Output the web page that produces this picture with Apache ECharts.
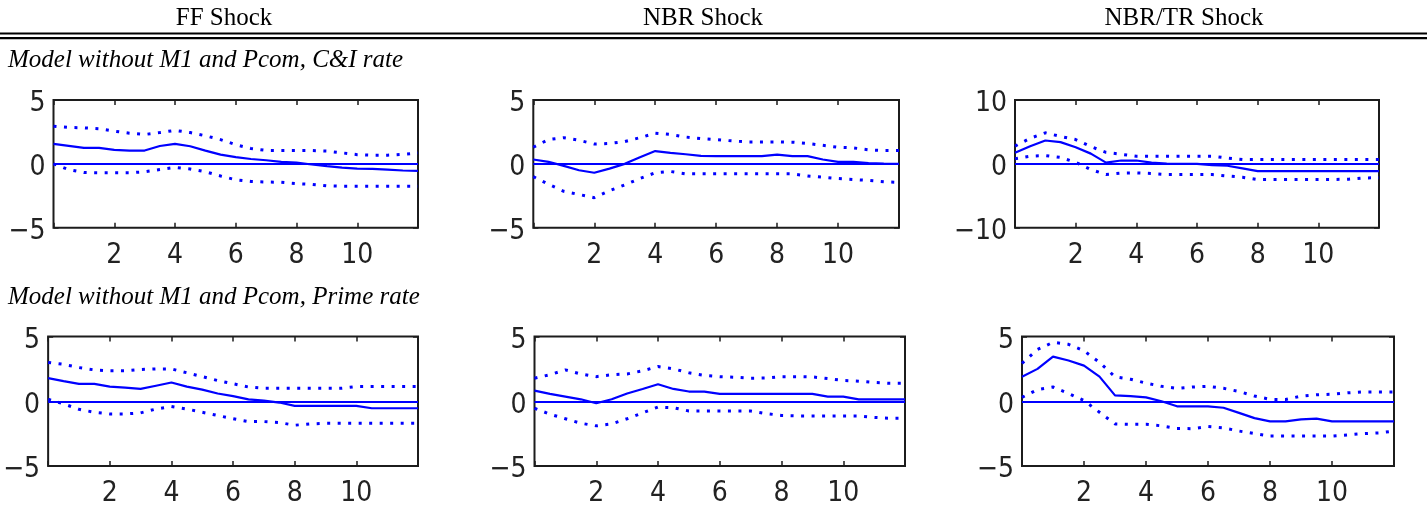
<!DOCTYPE html>
<html>
<head>
<meta charset="utf-8">
<script src="https://cdn.jsdelivr.net/npm/echarts@6/dist/echarts.min.js"></script>
<style>
  html, body { margin: 0; padding: 0; background: #fff; }
  #chart { width: 1427px; height: 512px; }
</style>
</head>
<body>
<div id="chart"></div>
<script>
// Horizon (quarters) at which each impulse response is sampled
const horizon = [0, 0.5, 1, 1.5, 2, 2.5, 3, 3.5, 4, 4.5, 5, 5.5, 6, 6.5, 7, 7.5, 8, 8.5, 9, 9.5, 10, 10.5, 11, 11.5, 12];
const xTicks = [2, 4, 6, 8, 10];

const shockTitles = ['FF Shock', 'NBR Shock', 'NBR/TR Shock'];
const modelTitles = ['Model without M1 and Pcom, C&I rate', 'Model without M1 and Pcom, Prime rate'];

// C&I rate responses: point estimate with upper / lower bands
const ffCI_resp = [1.57, 1.41, 1.25, 1.25, 1.1, 1.04, 1.04, 1.4, 1.57, 1.38, 1.04, 0.72, 0.52, 0.38, 0.28, 0.16, 0.1, -0.05, -0.18, -0.3, -0.37, -0.4, -0.45, -0.52, -0.55];
const ffCI_hi = [2.95, 2.85, 2.82, 2.75, 2.56, 2.4, 2.3, 2.45, 2.62, 2.45, 2.2, 1.9, 1.5, 1.2, 1.05, 1.04, 1.04, 1.04, 1.0, 0.86, 0.72, 0.68, 0.68, 0.75, 0.85];
const ffCI_lo = [0.0, -0.45, -0.68, -0.7, -0.7, -0.7, -0.62, -0.45, -0.28, -0.4, -0.62, -0.95, -1.25, -1.38, -1.42, -1.45, -1.55, -1.6, -1.72, -1.75, -1.75, -1.75, -1.75, -1.75, -1.75];

const nbrCI_resp = [0.34, 0.16, -0.16, -0.5, -0.7, -0.37, 0.0, 0.52, 1.0, 0.86, 0.75, 0.62, 0.6, 0.6, 0.6, 0.6, 0.72, 0.6, 0.6, 0.34, 0.16, 0.16, 0.05, 0.02, 0.0];
const nbrCI_hi = [1.3, 1.9, 2.05, 1.85, 1.55, 1.6, 1.75, 2.05, 2.4, 2.3, 2.1, 1.98, 1.9, 1.8, 1.72, 1.72, 1.72, 1.7, 1.6, 1.45, 1.3, 1.25, 1.1, 1.04, 1.04];
const nbrCI_lo = [-1.0, -1.6, -2.15, -2.4, -2.65, -2.1, -1.65, -1.15, -0.7, -0.6, -0.78, -0.78, -0.78, -0.78, -0.78, -0.78, -0.78, -0.78, -0.95, -1.04, -1.15, -1.23, -1.3, -1.4, -1.45];

const nbrtrCI_resp = [1.72, 2.77, 3.66, 3.4, 2.6, 1.6, 0.2, 0.52, 0.52, 0.2, 0.05, 0.0, 0.0, -0.2, -0.3, -0.7, -1.15, -1.15, -1.15, -1.15, -1.15, -1.15, -1.15, -1.15, -1.15];
const nbrtrCI_hi = [2.77, 4.0, 4.86, 4.3, 3.8, 2.7, 1.8, 1.5, 1.2, 1.2, 1.2, 1.2, 1.2, 1.2, 0.9, 0.68, 0.68, 0.68, 0.68, 0.68, 0.68, 0.68, 0.68, 0.68, 0.68];
const nbrtrCI_lo = [0.8, 1.2, 1.3, 1.0, 0.25, -0.9, -1.67, -1.45, -1.41, -1.5, -1.67, -1.67, -1.67, -1.67, -1.9, -2.1, -2.45, -2.45, -2.45, -2.45, -2.45, -2.45, -2.4, -2.2, -2.19];

// Prime rate responses
const ffPrime_resp = [1.78, 1.55, 1.34, 1.34, 1.13, 1.05, 0.95, 1.2, 1.45, 1.13, 0.9, 0.6, 0.4, 0.15, 0.05, -0.1, -0.36, -0.36, -0.36, -0.36, -0.36, -0.54, -0.54, -0.54, -0.54];
const ffPrime_hi = [3.0, 2.85, 2.6, 2.42, 2.35, 2.35, 2.45, 2.5, 2.5, 2.2, 1.9, 1.6, 1.35, 1.1, 1.0, 1.0, 1.0, 1.0, 1.0, 1.0, 1.13, 1.13, 1.13, 1.13, 1.13];
const ffPrime_lo = [0.15, -0.2, -0.62, -0.85, -0.98, -0.98, -0.9, -0.6, -0.41, -0.6, -0.85, -1.1, -1.35, -1.57, -1.57, -1.65, -1.85, -1.75, -1.7, -1.7, -1.7, -1.7, -1.7, -1.7, -1.7];

const nbrPrime_resp = [0.82, 0.57, 0.36, 0.15, -0.15, 0.15, 0.6, 0.95, 1.31, 0.95, 0.75, 0.75, 0.57, 0.57, 0.57, 0.57, 0.57, 0.57, 0.57, 0.36, 0.36, 0.15, 0.15, 0.15, 0.15];
const nbrPrime_hi = [1.78, 2.05, 2.42, 2.1, 1.9, 2.05, 2.11, 2.35, 2.68, 2.5, 2.2, 2.0, 1.9, 1.85, 1.78, 1.8, 1.9, 1.9, 1.88, 1.75, 1.6, 1.55, 1.45, 1.39, 1.39];
const nbrPrime_lo = [-0.54, -1.0, -1.35, -1.7, -1.9, -1.75, -1.35, -0.9, -0.45, -0.5, -0.75, -0.75, -0.75, -0.75, -0.75, -0.95, -1.1, -1.13, -1.13, -1.13, -1.13, -1.13, -1.25, -1.31, -1.31];

const nbrtrPrime_resp = [1.89, 2.5, 3.45, 3.15, 2.75, 1.9, 0.45, 0.39, 0.3, 0.0, -0.39, -0.39, -0.39, -0.5, -0.9, -1.3, -1.55, -1.55, -1.4, -1.34, -1.55, -1.55, -1.55, -1.55, -1.55];
const nbrtrPrime_hi = [2.92, 4.0, 4.55, 4.4, 3.9, 3.0, 1.89, 1.7, 1.4, 1.15, 1.0, 1.1, 1.15, 1.0, 0.75, 0.4, 0.15, 0.13, 0.4, 0.5, 0.54, 0.65, 0.72, 0.72, 0.72];
const nbrtrPrime_lo = [0.3, 0.9, 1.1, 0.6, 0.05, -0.85, -1.75, -1.78, -1.78, -1.9, -2.1, -2.12, -1.95, -2.05, -2.3, -2.5, -2.69, -2.69, -2.69, -2.69, -2.69, -2.6, -2.5, -2.45, -2.3];

// Symmetric y-axis limit of each panel
const yLimits = [5, 5, 10, 5, 5, 5];

const panelData = [
  [ffCI_resp, ffCI_hi, ffCI_lo],
  [nbrCI_resp, nbrCI_hi, nbrCI_lo],
  [nbrtrCI_resp, nbrtrCI_hi, nbrtrCI_lo],
  [ffPrime_resp, ffPrime_hi, ffPrime_lo],
  [nbrPrime_resp, nbrPrime_hi, nbrPrime_lo],
  [nbrtrPrime_resp, nbrtrPrime_hi, nbrtrPrime_lo]
];

// Plot-area boxes (pixels)
const boxes = [
  { left: 53.5, top: 100, width: 364.5, height: 127.7 },
  { left: 533.3, top: 100, width: 365.7, height: 127.7 },
  { left: 1015, top: 100, width: 364, height: 127.7 },
  { left: 46.5, top: 336.5, width: 371.5, height: 129.5 },
  { left: 534.5, top: 336.5, width: 370.5, height: 129.5 },
  { left: 1022, top: 336.5, width: 372, height: 129.5 }
];

const BLUE = '#0000ff';
const FRAME = '#1c1c1c';
const tickFont = "'Liberation Sans Narrow', 'DejaVu Sans Condensed', 'Liberation Sans', sans-serif";
const serif = "'Liberation Serif', 'Times New Roman', serif";

const grids = [], xAxes = [], yAxes = [], series = [];

boxes.forEach((b, i) => {
  grids.push(Object.assign({
    show: true, borderColor: FRAME, borderWidth: 2, backgroundColor: '#fff', containLabel: false
  }, b));

  const xBase = {
    gridIndex: i, type: 'value', min: 0, max: 12, interval: 2,
    axisLine: { show: false, onZero: false }, splitLine: { show: false },
    axisTick: { inside: true, length: 5, lineStyle: { color: FRAME, width: 1.5 } }
  };
  xAxes.push(Object.assign({}, xBase, {
    position: 'bottom',
    axisLabel: {
      margin: 14, fontSize: 28, color: '#222', fontFamily: tickFont,
      formatter: v => (xTicks.indexOf(v) >= 0 ? String(v) : '')
    }
  }));
  xAxes.push(Object.assign({}, xBase, { position: 'top', axisLabel: { show: false } }));

  const m = yLimits[i];
  const yBase = {
    gridIndex: i, type: 'value', min: -m, max: m, interval: m,
    axisLine: { show: false, onZero: false }, splitLine: { show: false },
    axisTick: { inside: true, length: 5, lineStyle: { color: FRAME, width: 1.5 } }
  };
  yAxes.push(Object.assign({}, yBase, {
    position: 'left',
    axisLabel: {
      margin: 8, fontSize: 28, color: '#222', fontFamily: tickFont,
      verticalAlign: 'top', lineHeight: 8,
      formatter: v => String(v).replace('-', '\u2212')
    }
  }));
  yAxes.push(Object.assign({}, yBase, { position: 'right', axisLabel: { show: false } }));

  const [resp, hi, lo] = panelData[i];
  const pts = arr => horizon.map((h, k) => [h, arr[k]]);

  ['hi', 'lo'].forEach((name, j) => {
    series.push({
      type: 'line', name: name, xAxisIndex: 2 * i, yAxisIndex: 2 * i,
      data: pts(j === 0 ? hi : lo), symbol: 'none', silent: true,
      lineStyle: { color: BLUE, width: 3, type: [3, 7.5], cap: 'butt' }
    });
  });
  series.push({
    type: 'line', name: 'response', xAxisIndex: 2 * i, yAxisIndex: 2 * i,
    data: pts(resp), symbol: 'none', silent: true,
    lineStyle: { color: BLUE, width: 2.2 },
    markLine: {
      silent: true, symbol: ['none', 'none'], label: { show: false },
      lineStyle: { color: BLUE, width: 2, type: 'solid' },
      data: [{ yAxis: 0 }]
    }
  });
});

const headerCenters = [224, 703, 1184];
const graphics = [];
shockTitles.forEach((t, i) => {
  graphics.push({
    type: 'text', x: headerCenters[i], y: 18,
    style: { text: t, font: '25px ' + serif, fill: '#000', textAlign: 'center', textVerticalAlign: 'middle' }
  });
});
// double rule under the column headings
graphics.push({ type: 'rect', shape: { x: 0, y: 32.5, width: 1427, height: 2 }, style: { fill: '#000' } });
graphics.push({ type: 'rect', shape: { x: 0, y: 37, width: 1427, height: 2.2 }, style: { fill: '#000' } });
[60, 297].forEach((y, i) => {
  graphics.push({
    type: 'text', x: 8, y: y,
    style: { text: modelTitles[i], font: 'italic 25px ' + serif, fill: '#000', textAlign: 'left', textVerticalAlign: 'middle' }
  });
});

const chart = echarts.init(document.getElementById('chart'), null, { renderer: 'canvas' });
chart.setOption({
  animation: false,
  backgroundColor: '#fff',
  grid: grids,
  xAxis: xAxes,
  yAxis: yAxes,
  series: series,
  graphic: graphics
});
</script>
</body>
</html>
